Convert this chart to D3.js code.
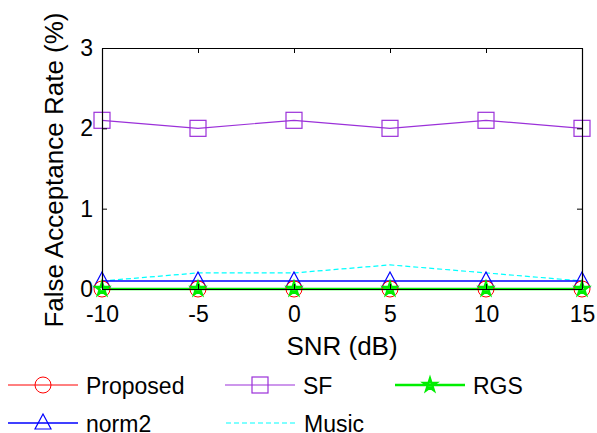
<!DOCTYPE html>
<html>
<head>
<meta charset="utf-8">
<script src="https://cdn.jsdelivr.net/npm/d3@7"></script>
<style>
  body { margin: 0; background: #fff; }
  svg text { font-family: "Liberation Sans", Arial, sans-serif; }
</style>
</head>
<body>
<svg id="drawing_region"></svg>
<script>
const snr = [-10, -5, 0, 5, 10, 15];
const proposed = [0, 0, 0, 0, 0, 0];
const sf = [2.1, 2.0, 2.1, 2.0, 2.1, 2.0];
const rgs = [0, 0, 0, 0, 0, 0];
const norm2 = [0.1, 0.1, 0.1, 0.1, 0.1, 0.1];
const music = [0.1, 0.2, 0.2, 0.3, 0.2, 0.1];
const yticks = [0, 1, 2, 3];

const series = [
    {name: 'Proposed', values: proposed, color: '#ff0000', marker: 'circle', width: 1, dash: null},
    {name: 'SF', values: sf, color: '#9b30d9', marker: 'square', width: 1.2, dash: null},
    {name: 'RGS', values: rgs, color: '#00ee00', marker: 'star', width: 2.5, dash: null},
    {name: 'norm2', values: norm2, color: '#0000ff', marker: 'triangle', width: 1.5, dash: null},
    {name: 'Music', values: music, color: '#00ffff', marker: null, width: 1.2, dash: '5,3'}
];

const config = {width: 597, height: 433, margin: {top: 48, right: 15, bottom: 144, left: 102}};
const svg = d3.select('#drawing_region')
    .attr('width', config.width)
    .attr('height', config.height);

const inner_width = config.width - config.margin.left - config.margin.right;
const inner_height = config.height - config.margin.top - config.margin.bottom;

const chart = svg.append('g')
    .attr('transform', `translate(${config.margin.left}, ${config.margin.top})`);

const xscale = d3.scaleLinear().domain([-10, 15]).range([0, inner_width]);
const yscale = d3.scaleLinear().domain([0, 3]).range([inner_height, 0]);

// lines + markers
const line = d3.line().x((d, i) => xscale(snr[i])).y(d => yscale(d));

function drawMarker(g, type, color, x, y) {
    if (type === 'circle') {
        g.append('circle').attr('cx', x).attr('cy', y).attr('r', 8)
            .attr('fill', 'none').attr('stroke', color).attr('stroke-width', 1);
    } else if (type === 'square') {
        g.append('rect').attr('x', x - 8).attr('y', y - 8).attr('width', 16).attr('height', 16)
            .attr('fill', 'none').attr('stroke', color).attr('stroke-width', 1.2);
    } else if (type === 'triangle') {
        g.append('path').attr('d', `M${x},${y - 9}L${x + 8},${y + 6}L${x - 8},${y + 6}Z`)
            .attr('fill', 'none').attr('stroke', color).attr('stroke-width', 1.2);
    } else if (type === 'star') {
        g.append('path').attr('d', d3.symbol(d3.symbolStar, 45)())
            .attr('transform', `translate(${x},${y})`)
            .attr('fill', 'none').attr('stroke', color).attr('stroke-width', 2.5);
    }
}

const plot_order = ['Music', 'norm2', 'SF', 'Proposed', 'RGS'];
plot_order.forEach(name => {
    const s = series.find(d => d.name === name);
    chart.append('path')
        .datum(s.values)
        .attr('d', line)
        .attr('fill', 'none')
        .attr('stroke', s.color)
        .attr('stroke-width', s.width)
        .attr('stroke-dasharray', s.dash);
});
['norm2', 'SF', 'Proposed', 'RGS'].forEach(name => {
    const s = series.find(d => d.name === name);
    s.values.forEach((v, i) => drawMarker(chart, s.marker, s.color, xscale(snr[i]), yscale(v)));
});

// axes box
const fmt = d => String(d);
const xaxis = d3.axisBottom(xscale).tickValues(snr).tickSize(-5).tickPadding(17).tickFormat(fmt).tickSizeOuter(0);
const yaxis = d3.axisLeft(yscale).tickValues(yticks).tickSize(-5).tickPadding(9).tickFormat(fmt).tickSizeOuter(0);
const xaxis_top = d3.axisTop(xscale).tickValues(snr).tickSize(-5).tickFormat('').tickSizeOuter(0);
const yaxis_right = d3.axisRight(yscale).tickValues(yticks).tickSize(-5).tickFormat('').tickSizeOuter(0);

const xg = chart.append('g').attr('transform', `translate(0, ${inner_height})`).call(xaxis);
const yg = chart.append('g').call(yaxis);
chart.append('g').call(xaxis_top);
chart.append('g').attr('transform', `translate(${inner_width}, 0)`).call(yaxis_right);

chart.selectAll('.domain').attr('stroke', '#000').attr('stroke-width', 1.2);
chart.selectAll('.tick line').attr('stroke', '#000');
xg.selectAll('text').attr('font-size', 23).attr('fill', '#000').attr('font-family', '"Liberation Sans", Arial, sans-serif');
yg.selectAll('text').attr('font-size', 23).attr('fill', '#000').attr('font-family', '"Liberation Sans", Arial, sans-serif');

// axis labels
svg.append('text')
    .attr('x', config.margin.left + inner_width / 2)
    .attr('y', 355)
    .attr('text-anchor', 'middle')
    .attr('font-size', 26)
    .text('SNR (dB)');

svg.append('text')
    .attr('transform', `translate(63, 170) rotate(-90)`)
    .attr('text-anchor', 'middle')
    .attr('font-size', 26)
    .text('False Acceptance Rate (%)');

// legend
const legend_pos = {
    'Proposed': [8, 385], 'SF': [225, 385], 'RGS': [395, 385],
    'norm2': [8, 423], 'Music': [226, 423]
};
series.forEach(s => {
    const [lx, ly] = legend_pos[s.name];
    const g = svg.append('g');
    g.append('line').attr('x1', lx).attr('x2', lx + 70).attr('y1', ly).attr('y2', ly)
        .attr('stroke', s.color).attr('stroke-width', s.width)
        .attr('stroke-dasharray', s.dash);
    if (s.marker) drawMarker(g, s.marker, s.color, lx + 35, ly);
    g.append('text').attr('x', lx + 78).attr('y', ly + 9)
        .attr('font-size', 23).text(s.name);
});
</script>
</body>
</html>
